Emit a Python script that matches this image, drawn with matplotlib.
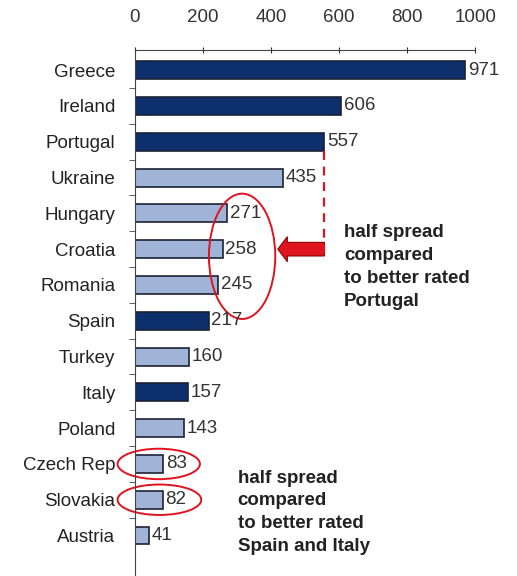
import numpy as np
import matplotlib.pyplot as plt
from matplotlib.patches import Ellipse, FancyArrow

plt.rcParams['font.family'] = ['Liberation Sans', 'DejaVu Sans']

# Data
countries = ['Greece', 'Ireland', 'Portugal', 'Ukraine', 'Hungary', 'Croatia',
             'Romania', 'Spain', 'Turkey', 'Italy', 'Poland', 'Czech Rep',
             'Slovakia', 'Austria']
spreads = [971, 606, 557, 435, 271, 258, 245, 217, 160, 157, 143, 83, 82, 41]
euro_area = ['Greece', 'Ireland', 'Portugal', 'Spain', 'Italy']

dark = '#0d2f6b'
light = '#9fb4d6'
red = '#e0141e'
fs = 13.5

fig = plt.figure(figsize=(5.17, 5.76), dpi=100)
ax = fig.add_axes([0.261, 0.0, 0.658, 0.913])

pos = np.arange(len(countries))
colors = [dark if c in euro_area else light for c in countries]
ax.barh(pos, spreads, height=0.5, color=colors, edgecolor='#1b2233', linewidth=1.2)

for p, v in zip(pos, spreads):
    ax.text(v + 8, p, str(v), va='center', ha='left', fontsize=fs, color='#333333')

ax.set_xlim(0, 1000)
ax.set_ylim(14.13, -0.56)
ax.xaxis.tick_top()
ax.set_xticks(np.arange(0, 1001, 200))
ax.tick_params(axis='x', direction='inout', length=5, pad=15, labelsize=fs,
               colors='#333333', labelcolor='#333333')
ax.set_yticks(pos)
ax.set_yticklabels(countries)
ax.tick_params(axis='y', length=0, pad=14, labelsize=fs, labelcolor='#222222')
ax.set_yticks(pos[:-1] + 0.5, minor=True)
ax.tick_params(axis='y', which='minor', length=4, direction='out', color='#444444')
for s in ['right', 'bottom']:
    ax.spines[s].set_visible(False)
ax.spines['top'].set_color('#444444')
ax.spines['left'].set_color('#444444')

# Portugal annotation
ax.plot([557, 557], [2.25, 5.3], color=red, ls=(0, (4, 3)), lw=1.6, clip_on=False)
ax.add_patch(FancyArrow(557, 5, -137, 0, width=0.38, head_width=0.7,
                        head_length=28, length_includes_head=True,
                        facecolor=red, edgecolor='#8b0000', lw=0.8))
ax.add_patch(Ellipse((315, 5.2), 195, 3.5, fill=False, edgecolor=red, lw=1.4))
ax.text(615, 5.5, 'half spread\ncompared\nto better rated\nPortugal',
        ha='left', va='center', fontsize=fs, fontweight='bold',
        color='#222222', linespacing=1.45)

# Spain / Italy annotation
ax.add_patch(Ellipse((70, 11), 242, 0.85, fill=False, edgecolor=red, lw=1.4,
                     clip_on=False))
ax.add_patch(Ellipse((72, 12), 246, 0.85, fill=False, edgecolor=red, lw=1.4,
                     clip_on=False))
ax.text(302, 12.35, 'half spread\ncompared\nto better rated\nSpain and Italy',
        ha='left', va='center', fontsize=fs, fontweight='bold',
        color='#222222', linespacing=1.45)

fig.savefig('out.png', dpi=100)
